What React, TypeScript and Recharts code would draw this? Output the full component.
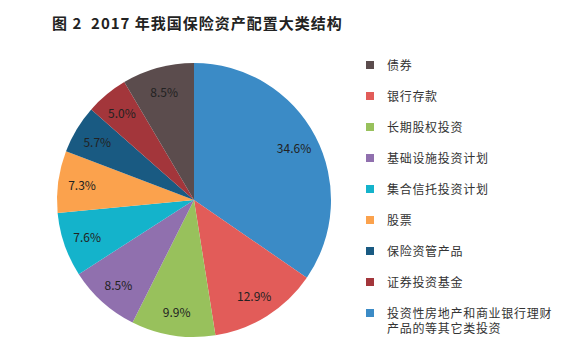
import { PieChart, Pie, Cell, Legend } from "recharts";

const categories = [
  "投资性房地产和商业银行理财产品的等其它类投资",
  "银行存款",
  "长期股权投资",
  "基础设施投资计划",
  "集合信托投资计划",
  "股票",
  "保险资管产品",
  "证券投资基金",
  "债券",
];
const shares = [34.6, 12.9, 9.9, 8.5, 7.6, 7.3, 5.7, 5.0, 8.5];
const colors = [
  "#3b8bc6",
  "#e25c59",
  "#98c15c",
  "#9070ae",
  "#14b3cb",
  "#fba24d",
  "#195a82",
  "#a3363b",
  "#5b4c4d",
];
// legend lists bonds first, the big slice last
const legendOrder = [8, 1, 2, 3, 4, 5, 6, 7, 0];

const FONT = '"Noto Sans CJK SC", "Noto Sans", sans-serif';

const data = categories.map((name, i) => ({ name, value: shares[i] }));

// eslint-disable-next-line @typescript-eslint/no-explicit-any
const renderLabel = (props: any) => {
  const RADIAN = Math.PI / 180;
  const { cx, cy, midAngle, value } = props;
  const r = 113;
  const x = cx + r * Math.cos(-midAngle * RADIAN);
  const y = cy + r * Math.sin(-midAngle * RADIAN);
  return (
    <text
      x={x}
      y={y}
      fill="#222"
      textAnchor="middle"
      dominantBaseline="central"
      fontSize={12}
      fontFamily={FONT}
    >
      {`${value.toFixed(1)}%`}
    </text>
  );
};

const LegendBox = () => (
  <div style={{ fontFamily: FONT, fontSize: 12, color: "#333" }}>
    {legendOrder.map((idx) => (
      <div
        key={idx}
        style={{
          display: "flex",
          alignItems: "flex-start",
          height: 31,
          lineHeight: "15px",
        }}
      >
        <span
          style={{
            width: 8,
            height: 8,
            background: colors[idx],
            marginTop: 4,
            marginRight: 13,
            flexShrink: 0,
          }}
        />
        <span style={{ width: 172, letterSpacing: 0.7 }}>{categories[idx]}</span>
      </div>
    ))}
  </div>
);

export default function App() {
  return (
    <div
      style={{
        position: "absolute",
        left: 0,
        top: 0,
        width: 584,
        height: 362,
        background: "#fff",
      }}
    >
      <div
        style={{
          position: "absolute",
          left: 52,
          top: 12,
          fontFamily: FONT,
          fontSize: 15,
          fontWeight: 700,
          color: "#222",
          letterSpacing: 1,
          whiteSpace: "pre",
        }}
      >
        {"图 2  2017 年我国保险资产配置大类结构"}
      </div>
      <PieChart
        width={584}
        height={362}
        margin={{ top: 0, right: 0, bottom: 0, left: 0 }}
      >
        <Pie
          data={data}
          dataKey="value"
          nameKey="name"
          cx={194}
          cy={200}
          outerRadius={137}
          startAngle={90}
          endAngle={-270}
          stroke="none"
          label={renderLabel}
          labelLine={false}
          isAnimationActive={false}
        >
          {data.map((d, i) => (
            <Cell key={d.name} fill={colors[i]} />
          ))}
        </Pie>
        <Legend
          content={<LegendBox />}
          wrapperStyle={{ left: 366, top: 57, width: 215 }}
        />
      </PieChart>
    </div>
  );
}
